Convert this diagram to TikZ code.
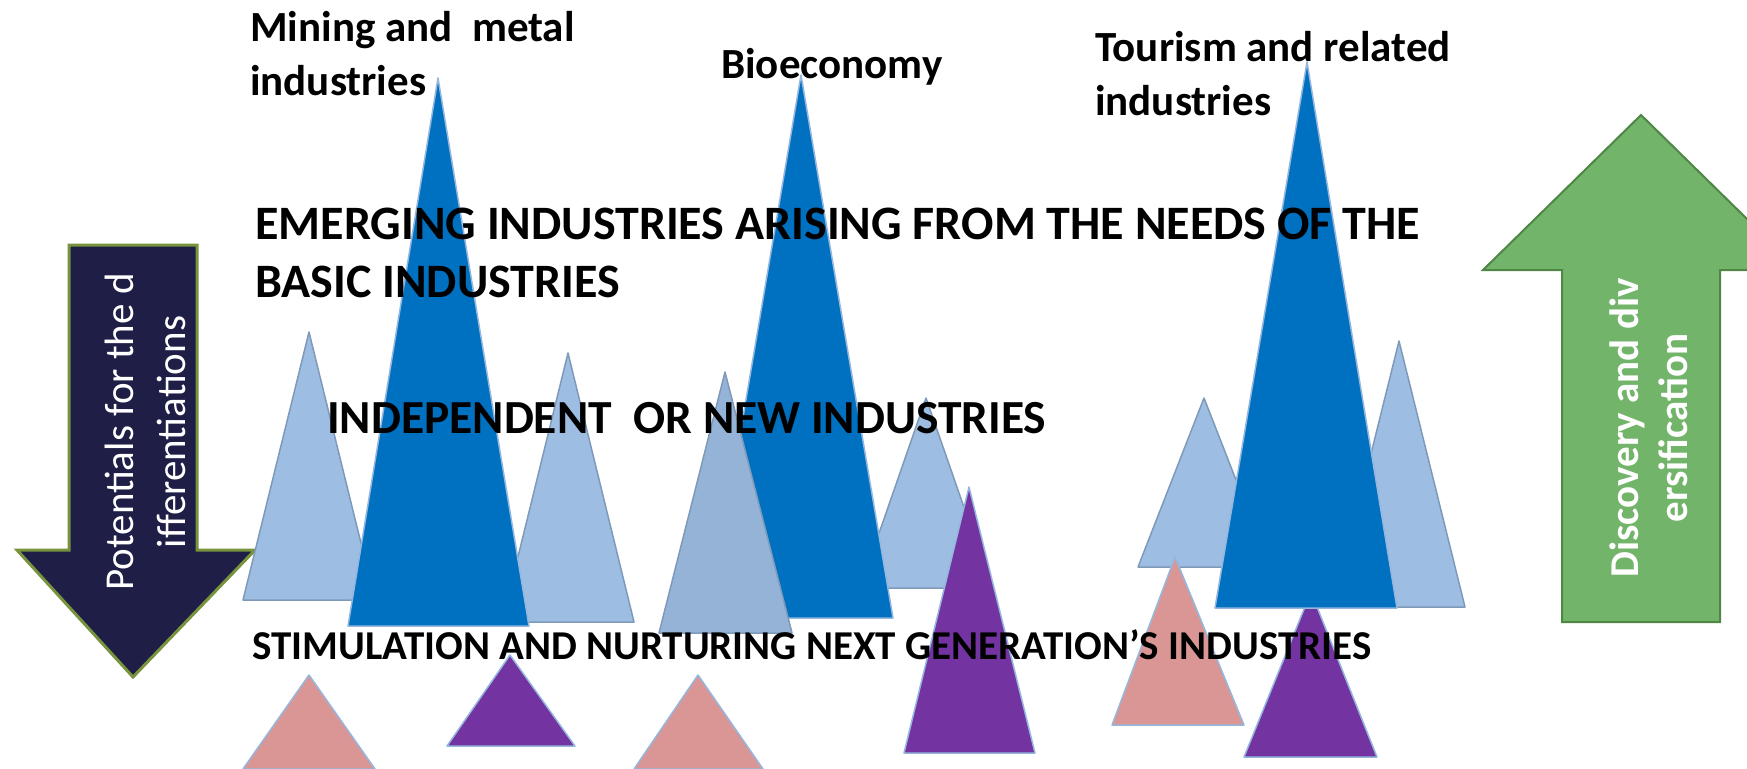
\documentclass[tikz,border=0pt]{standalone}
\usepackage{fontspec}
\setmainfont{Carlito}
\definecolor{dkblue}{HTML}{0070C0}
\definecolor{ltblue}{HTML}{9DBDE2}
\definecolor{grblue}{HTML}{95B3D7}
\definecolor{ltedge}{HTML}{7F9AB9}
\definecolor{edgeblue}{HTML}{95B7DF}
\definecolor{purpc}{HTML}{7333A1}
\definecolor{pinkc}{HTML}{DA9694}
\definecolor{navyc}{HTML}{1E1E47}
\definecolor{olivec}{HTML}{77933C}
\definecolor{greenc}{HTML}{73B46B}
\definecolor{greenedge}{HTML}{4E8646}
\definecolor{baseshade}{HTML}{6F7F93}
\begin{document}
\begin{tikzpicture}[x=1pt,y=-1pt,
  lbl/.style={anchor=base west, inner sep=0pt, font=\bfseries\fontsize{43}{53}\selectfont},
  big/.style={anchor=base west, inner sep=0pt, font=\bfseries\fontsize{48}{58}\selectfont},
  tri/.style={line width=1.5pt, line join=round},
  dblue/.style={tri, fill=dkblue, draw=edgeblue},
  lblue/.style={tri, fill=ltblue, draw=ltedge},
  gblue/.style={tri, fill=grblue, draw=ltedge},
  purp/.style={tri, fill=purpc, draw=edgeblue},
  pinkt/.style={tri, fill=pinkc, draw=edgeblue},
  downarrow/.style={fill=navyc, draw=olivec, line width=3pt, line join=miter},
  uparrow/.style={fill=greenc, draw=greenedge, line width=2pt, line join=miter},
  arrowtext/.style={rotate=90, text=white, align=center, inner sep=0pt}
]
\path[use as bounding box, clip] (0,0) rectangle (1747,768);

% side arrows
\draw[downarrow] (69,245) -- (197,245) -- (197,550) -- (255,550) -- (133,677) -- (17,550) -- (69,550) -- cycle;
\draw[uparrow] (1562,622) -- (1562,270) -- (1483,270) -- (1641,115) -- (1799,270) -- (1720,270) -- (1720,622) -- cycle;
\node[arrowtext, font=\fontsize{41}{52}\selectfont] (pot) at (145,432) {Potentials for the d\\ifferentiations};
\node[arrowtext, font=\bfseries\fontsize{41}{49}\selectfont] (disc) at (1649,428) {Discovery and div\\ersification};

% light blue triangles (back)
\draw[lblue] (243,600) -- (375,600) -- (309,332) -- cycle;
\draw[lblue] (502,622) -- (634,622) -- (568,353) -- cycle;
\draw[lblue] (860,588) -- (992,588) -- (926,398) -- cycle;
\draw[lblue] (1138,567) -- (1270,567) -- (1204,398) -- cycle;
\draw[lblue] (1333,607) -- (1465,607) -- (1399,341) -- cycle;
\draw[purp] (1244,757) -- (1377,757) -- (1311,592) -- cycle;

% dark blue main triangles
\draw[dblue] (348,626) -- (529,626) -- (438,78) -- cycle;
\draw[dblue] (709,618) -- (893,618) -- (801,75) -- cycle;
\draw[dblue] (1215,608) -- (1397,608) -- (1307,62) -- cycle;
\draw[gblue] (659,633) -- (792,633) -- (725,372) -- cycle;

% next generation triangles
\draw[pinkt] (1112,725) -- (1244,725) -- (1175,557) -- cycle;
\draw[purp] (904,753) -- (1035,753) -- (969,487) -- cycle;
\draw[pinkt] (243,769) -- (375,769) -- (309,675) -- cycle;
\draw[purp] (447,746) -- (575,746) -- (510,655) -- cycle;
\draw[pinkt] (634,769) -- (763,769) -- (698,675) -- cycle;

% labels
\node[lbl] (mining1) at (250,42) {Mining and~ metal};
\node[lbl] (mining2) at (250,95) {industries};
\node[lbl] (bio) at (721,78) {Bioeconomy};
\node[lbl] (tour1) at (1095,62) {Tourism and related};
\node[lbl] (tour2) at (1095,115) {industries};

\node[big] (emerg1) at (255,239) {EMERGING INDUSTRIES ARISING FROM THE NEEDS OF THE};
\node[big] (emerg2) at (255,297) {BASIC INDUSTRIES};
\node[big, font=\bfseries\fontsize{47.5}{57}\selectfont] (indep) at (327,433) {INDEPENDENT~ OR NEW INDUSTRIES};
\node[big, font=\bfseries\fontsize{41}{49}\selectfont] (stim) at (252,659) {STIMULATION AND NURTURING NEXT GENERATION’S INDUSTRIES};
\end{tikzpicture}
\end{document}
